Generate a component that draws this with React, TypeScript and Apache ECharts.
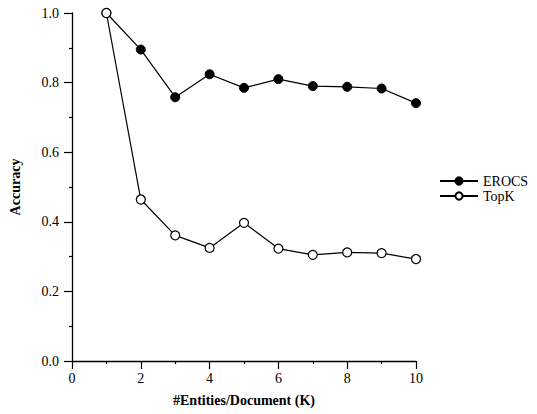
import React, { useEffect, useRef } from "react";
import * as echarts from "echarts";

const xValues = [1, 2, 3, 4, 5, 6, 7, 8, 9, 10];
const erocs = [1.0, 0.895, 0.758, 0.824, 0.785, 0.81, 0.79, 0.788, 0.783, 0.741];
const topk = [1.0, 0.464, 0.361, 0.325, 0.397, 0.323, 0.305, 0.312, 0.31, 0.293];
const seriesNames = ["EROCS", "TopK"];

const FONT = "Liberation Serif";

export default function App() {
  const ref = useRef<HTMLDivElement>(null);
  useEffect(() => {
    const chart = echarts.init(ref.current!, null, { renderer: "svg" });
    const tick = { show: true, length: 8, lineStyle: { color: "#000", width: 1.2 } };
    const minor = { show: true, splitNumber: 2, length: 3, lineStyle: { color: "#000", width: 1.2 } };
    chart.setOption({
      animation: false,
      grid: { left: 69, right: 121, top: 13, bottom: 53 },
      legend: {
        data: seriesNames,
        orient: "vertical",
        left: 434,
        top: 169,
        itemWidth: 38,
        itemHeight: 9,
        itemGap: 1,
        textStyle: { color: "#000", fontFamily: FONT, fontSize: 14 },
      },
      xAxis: {
        type: "value",
        min: 0,
        max: 10,
        interval: 2,
        name: "#Entities/Document (K)",
        nameLocation: "middle",
        nameGap: 32,
        nameTextStyle: { color: "#000", fontFamily: FONT, fontSize: 14, fontWeight: "bold" },
        axisLine: { show: true, lineStyle: { color: "#000", width: 1.3 } },
        axisTick: tick,
        minorTick: minor,
        splitLine: { show: false },
        axisLabel: { color: "#000", fontFamily: FONT, fontSize: 14, margin: 10 },
      },
      yAxis: {
        type: "value",
        min: 0,
        max: 1,
        interval: 0.2,
        name: "Accuracy",
        nameLocation: "middle",
        nameGap: 50,
        nameRotate: 90,
        nameTextStyle: { color: "#000", fontFamily: FONT, fontSize: 14, fontWeight: "bold" },
        axisLine: { show: true, lineStyle: { color: "#000", width: 1.3 } },
        axisTick: tick,
        minorTick: minor,
        splitLine: { show: false },
        axisLabel: {
          color: "#000",
          fontFamily: FONT,
          fontSize: 14,
          margin: 13,
          formatter: (v: number) => v.toFixed(1),
        },
      },
      series: [
        {
          name: seriesNames[0],
          type: "line",
          clip: false,
          data: xValues.map((x, i) => [x, erocs[i]]),
          symbol: "circle",
          symbolSize: 9,
          lineStyle: { color: "#000", width: 1.2 },
          itemStyle: { color: "#000", borderColor: "#000", borderWidth: 1 },
          z: 2,
        },
        {
          name: seriesNames[1],
          type: "line",
          clip: false,
          data: xValues.map((x, i) => [x, topk[i]]),
          symbol: "circle",
          symbolSize: 9,
          lineStyle: { color: "#000", width: 1.2 },
          itemStyle: { color: "#fff", borderColor: "#000", borderWidth: 1.2 },
          z: 3,
        },
      ],
    });
    return () => chart.dispose();
  }, []);
  return <div ref={ref} style={{ width: 537, height: 414, position: "absolute", left: 0, top: 0 }} />;
}
